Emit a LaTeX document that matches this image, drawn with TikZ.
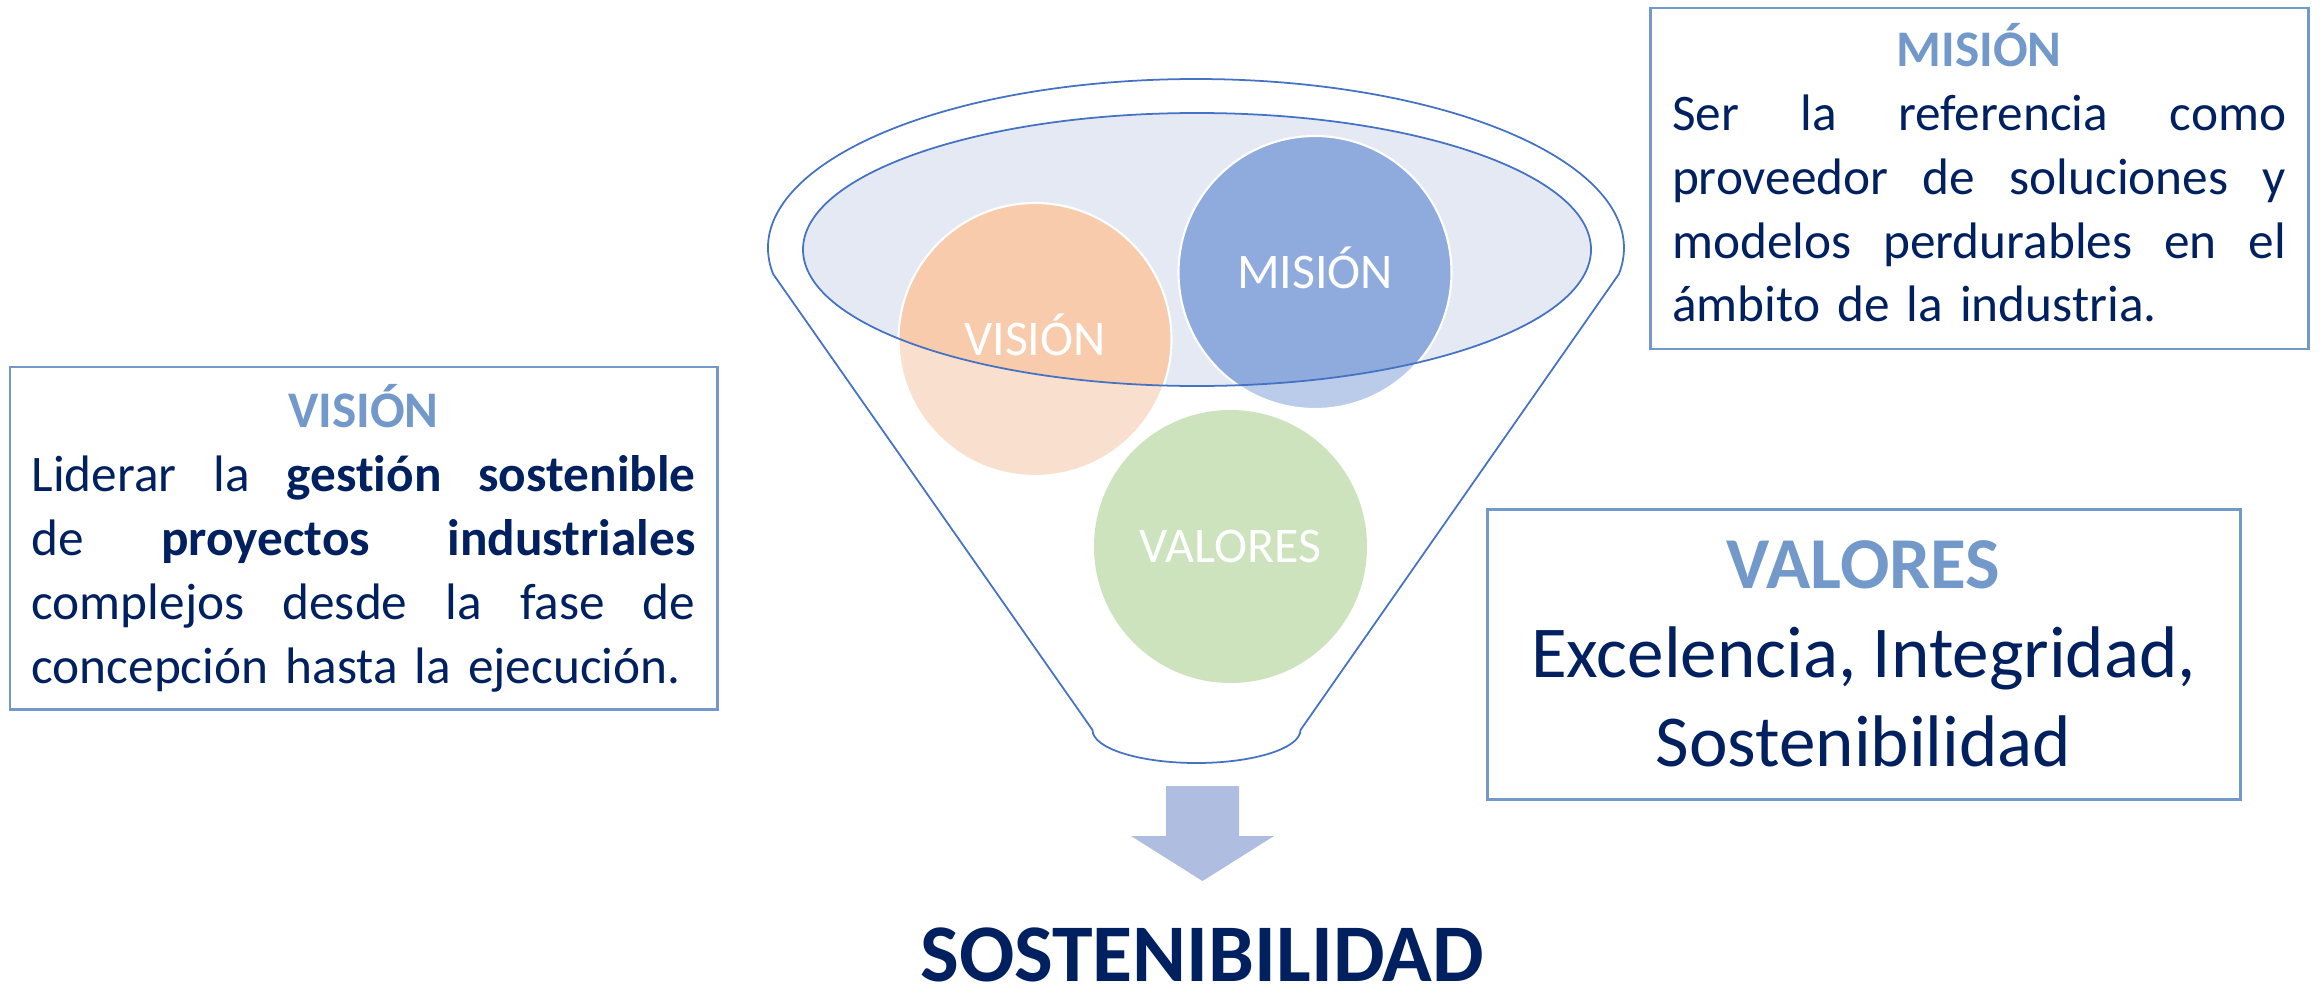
\documentclass[tikz,border=0pt]{standalone}
\usepackage{fontspec}
\setmainfont{Carlito}[Ligatures=NoCommon]
\definecolor{navy}{RGB}{0, 32, 96}
\definecolor{titleblue}{RGB}{114, 153, 201}
\definecolor{funnelblue}{RGB}{68, 114, 196}
\definecolor{rimfill}{RGB}{228, 233, 244}
\definecolor{visdark}{RGB}{247, 203, 172}
\definecolor{vislight}{RGB}{249, 223, 205}
\definecolor{misdark}{RGB}{143, 170, 220}
\definecolor{mislight}{RGB}{186, 204, 233}
\definecolor{valgreen}{RGB}{204, 227, 189}
\definecolor{arrowblue}{RGB}{175, 189, 224}
\usepackage{tikz}

\newcommand{\jline}[1]{\makebox[\hsize][s]{\spaceskip=0.23em plus 1fil\relax #1}}
\newcommand{\lastline}[1]{\makebox[\hsize][l]{#1}}
\newcommand{\boxtitle}[1]{\makebox[\hsize][c]{\bfseries\color{titleblue}#1}}

\begin{document}
\begin{tikzpicture}[
    bubble/.style={circle, minimum size=2.73cm, inner sep=0pt},
    bubbletext/.style={font=\fontsize{14.2}{17}\selectfont, text=white, anchor=base, yshift=-0.157cm},
    infobox/.style={draw=titleblue, line width=0.85pt, inner sep=0pt, text=navy, align=left, font=\fontsize{14.6}{18.2}\selectfont}
  ]
  \useasboundingbox (0,0) rectangle (23.21,9.89);

  % Funnel
  \draw[funnelblue, line width=0.5pt, fill=white]
    (11.96,7.41) ++(188.85:4.28 and 1.69)
    arc[start angle=188.85, end angle=-8.85, x radius=4.28, y radius=1.69]
    -- (13.005,2.59) arc[start angle=0, end angle=-180, x radius=1.04, y radius=0.33] -- cycle;
  \fill[rimfill] (11.97,7.395) ellipse (3.94 and 1.365);

  % Circles
  \node[bubble, fill=vislight] (vision) at (10.35,6.495) {};
  \node[bubble, fill=mislight] (mision) at (13.15,7.165) {};
  \node[bubble, fill=valgreen] (valores) at (12.305,4.425) {};
  \begin{scope}
    \clip (11.97,7.395) ellipse (3.94 and 1.365);
    \fill[visdark] (vision) circle (1.365);
    \fill[misdark] (mision) circle (1.365);
  \end{scope}
  \draw[white, line width=0.6pt] (vision) circle (1.365) (mision) circle (1.365);
  \draw[funnelblue, line width=0.5pt] (11.97,7.395) ellipse (3.94 and 1.365);
  \node[bubbletext] (vistxt) at (vision) {VISIÓN};
  \node[bubbletext] (mistxt) at (mision) {MISIÓN};
  \node[bubbletext] (valtxt) at (valores) {VALORES};

  % Text boxes
  \node[infobox, minimum width=7.07cm, minimum height=3.42cm, text width=6.64cm] (visbox) at (3.635,4.51) {%
    \boxtitle{VISIÓN}\\
    \jline{Liderar la \textbf{gestión sostenible}}\\
    \jline{de \textbf{proyectos industriales}}\\
    \jline{complejos desde la fase de}\\
    \lastline{concepción hasta la ejecución.}};
  \node[infobox, minimum width=6.58cm, minimum height=3.41cm, text width=6.14cm] (misbox) at (19.79,8.105) {%
    \boxtitle{MISIÓN}\\
    \jline{Ser la referencia como}\\
    \jline{proveedor de soluciones y}\\
    \jline{modelos perdurables en el}\\
    \lastline{ámbito de la industria.\rule[-0.12cm]{0pt}{0pt}}};
  \node[infobox, minimum width=7.53cm, minimum height=2.90cm, align=center, font=\fontsize{20.8}{25.4}\selectfont] (valbox) at (18.635,3.35) {%
    \textbf{\color{titleblue}VALORES}\\
    Excelencia, Integridad,\\
    Sostenibilidad};

  % Result
  \fill[arrowblue] (11.66,2.03) -- (12.39,2.03) -- (12.39,1.53) -- (12.74,1.53)
    -- (12.025,1.08) -- (11.31,1.53) -- (11.66,1.53) -- cycle;
  \node[font=\fontsize{23.3}{28}\selectfont\bfseries, text=navy, anchor=base, inner sep=0pt] (sost) at (12.02,0.08) {SOSTENIBILIDAD};
\end{tikzpicture}
\end{document}
